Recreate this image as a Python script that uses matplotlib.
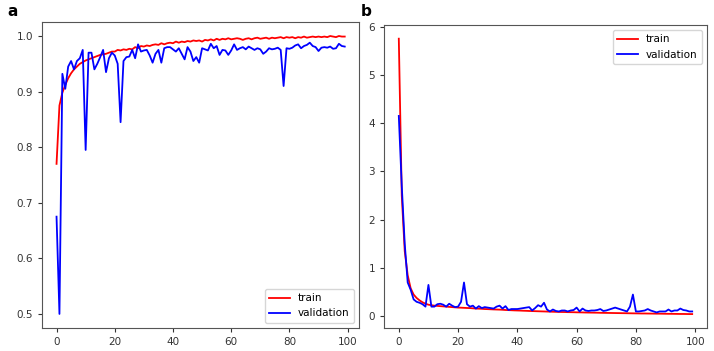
import matplotlib
matplotlib.use('Agg')
import matplotlib.pyplot as plt

epochs = list(range(100))

train_acc = [0.770, 0.875, 0.898, 0.912, 0.924, 0.933, 0.940, 0.945, 0.950, 0.953,
             0.956, 0.958, 0.960, 0.962, 0.964, 0.966, 0.967, 0.968, 0.970, 0.972,
             0.972, 0.975, 0.974, 0.976, 0.975, 0.977, 0.976, 0.980, 0.978, 0.982,
             0.981, 0.983, 0.982, 0.984, 0.985, 0.984, 0.987, 0.985, 0.987, 0.988,
             0.987, 0.990, 0.988, 0.990, 0.989, 0.991, 0.990, 0.992, 0.991, 0.992,
             0.990, 0.993, 0.992, 0.994, 0.992, 0.995, 0.993, 0.995, 0.994, 0.996,
             0.994, 0.995, 0.996, 0.995, 0.993, 0.995, 0.996, 0.994, 0.996, 0.997,
             0.995, 0.996, 0.997, 0.995, 0.997, 0.996, 0.997, 0.998, 0.996, 0.998,
             0.997, 0.998, 0.996, 0.998, 0.997, 0.999, 0.997, 0.998, 0.999, 0.998,
             0.999, 0.998, 0.999, 0.998, 1.000, 0.999, 0.998, 1.000, 0.999, 0.999]

val_acc = [0.675, 0.500, 0.932, 0.905, 0.945, 0.955, 0.940, 0.955, 0.960, 0.975,
           0.795, 0.970, 0.970, 0.940, 0.950, 0.962, 0.975, 0.935, 0.960, 0.970,
           0.965, 0.950, 0.845, 0.955, 0.962, 0.963, 0.975, 0.960, 0.985, 0.972,
           0.974, 0.975, 0.965, 0.952, 0.968, 0.975, 0.952, 0.978, 0.980, 0.980,
           0.976, 0.972, 0.978, 0.968, 0.958, 0.980, 0.972, 0.955, 0.962, 0.952,
           0.978, 0.976, 0.974, 0.986, 0.978, 0.982, 0.966, 0.975, 0.974, 0.966,
           0.974, 0.985, 0.975, 0.978, 0.980, 0.976, 0.981, 0.978, 0.975, 0.978,
           0.976, 0.968, 0.972, 0.978, 0.976, 0.977, 0.979, 0.975, 0.910, 0.978,
           0.977, 0.979, 0.983, 0.985, 0.978, 0.982, 0.984, 0.988, 0.982, 0.980,
           0.973, 0.979, 0.980, 0.979, 0.981, 0.977, 0.978, 0.986, 0.982, 0.981]

train_loss = [5.75, 2.50, 1.35, 0.85, 0.58, 0.45, 0.38, 0.33, 0.29, 0.26,
              0.24, 0.23, 0.22, 0.215, 0.21, 0.205, 0.20, 0.195, 0.19, 0.185,
              0.18, 0.178, 0.175, 0.172, 0.17, 0.165, 0.16, 0.158, 0.155, 0.15,
              0.148, 0.145, 0.142, 0.14, 0.138, 0.135, 0.13, 0.128, 0.125, 0.122,
              0.12, 0.118, 0.115, 0.113, 0.11, 0.108, 0.106, 0.104, 0.102, 0.10,
              0.098, 0.096, 0.094, 0.092, 0.09, 0.089, 0.088, 0.086, 0.085, 0.084,
              0.082, 0.081, 0.08, 0.078, 0.077, 0.076, 0.075, 0.074, 0.072, 0.071,
              0.07, 0.069, 0.068, 0.067, 0.066, 0.065, 0.064, 0.063, 0.062, 0.061,
              0.06, 0.059, 0.058, 0.058, 0.057, 0.056, 0.055, 0.054, 0.054, 0.053,
              0.052, 0.051, 0.051, 0.05, 0.049, 0.048, 0.048, 0.047, 0.046, 0.046]

val_loss = [4.15, 2.70, 1.50, 0.70, 0.55, 0.35, 0.30, 0.28, 0.25, 0.20,
            0.65, 0.20, 0.20, 0.25, 0.26, 0.24, 0.20, 0.26, 0.22, 0.19,
            0.20, 0.30, 0.70, 0.25, 0.20, 0.22, 0.16, 0.21, 0.17, 0.19,
            0.18, 0.17, 0.16, 0.20, 0.22, 0.16, 0.21, 0.13, 0.15, 0.15,
            0.15, 0.16, 0.17, 0.18, 0.19, 0.12, 0.17, 0.23, 0.20, 0.28,
            0.14, 0.10, 0.14, 0.11, 0.10, 0.12, 0.12, 0.10, 0.12, 0.13,
            0.18, 0.10, 0.16, 0.12, 0.11, 0.12, 0.12, 0.13, 0.15, 0.11,
            0.12, 0.14, 0.16, 0.18, 0.16, 0.14, 0.12, 0.10, 0.20, 0.45,
            0.10, 0.10, 0.11, 0.12, 0.15, 0.12, 0.10, 0.08, 0.10, 0.10,
            0.10, 0.14, 0.10, 0.12, 0.12, 0.16, 0.13, 0.12, 0.10, 0.10]

plt.rcParams['font.family'] = 'DejaVu Sans'
plt.rcParams['font.size'] = 7.5

fig = plt.figure(figsize=(7.14, 3.51), dpi=100)
ax1 = fig.add_axes([0.059, 0.066, 0.444, 0.871])
ax2 = fig.add_axes([0.538, 0.066, 0.452, 0.863])

for ax in (ax1, ax2):
    for s in ax.spines.values():
        s.set_edgecolor('#555555')
    ax.tick_params(labelsize=7.5, colors='#333333', length=3)

# accuracy
ax1.plot(epochs, train_acc, color='red', lw=1.3, label='train')
ax1.plot(epochs, val_acc, color='blue', lw=1.3, label='validation')
ax1.set_yticks([0.5, 0.6, 0.7, 0.8, 0.9, 1.0])
ax1.set_xticks([0, 20, 40, 60, 80, 100])
ax1.legend(loc='lower right', fontsize=7.5)

# loss
ax2.plot(epochs, train_loss, color='red', lw=1.3, label='train')
ax2.plot(epochs, val_loss, color='blue', lw=1.3, label='validation')
ax2.set_yticks([0, 1, 2, 3, 4, 5, 6])
ax2.set_xticks([0, 20, 40, 60, 80, 100])
ax2.legend(loc='upper right', fontsize=7.5)

fig.text(0.010, 0.955, 'a', fontsize=11, fontweight='bold')
fig.text(0.505, 0.955, 'b', fontsize=11, fontweight='bold')

fig.savefig('out.png', dpi=100)
